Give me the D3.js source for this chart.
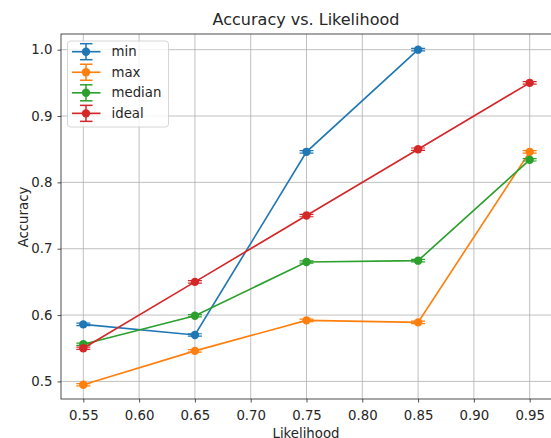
<!DOCTYPE html>
<html>
<head>
<meta charset="utf-8">
<script src="https://cdn.jsdelivr.net/npm/d3@7"></script>
<style>
  body { margin: 0; background: #fff; overflow: hidden; }
  svg { font-family: "DejaVu Sans", sans-serif; }
</style>
</head>
<body>
<script>
'use strict';
(function () {
  // chart data
  const likelihood = [0.55, 0.65, 0.75, 0.85, 0.95];
  const minAcc = [0.586, 0.570, 0.846, 1.0];
  const maxAcc = [0.495, 0.546, 0.592, 0.589, 0.846];
  const medianAcc = [0.556, 0.599, 0.680, 0.682, 0.834];
  const idealAcc = [0.55, 0.65, 0.75, 0.85, 0.95];
  const seriesNames = ['min', 'max', 'median', 'ideal'];
  const xTicks = [0.55, 0.60, 0.65, 0.70, 0.75, 0.80, 0.85, 0.90, 0.95];
  const yTicks = [0.5, 0.6, 0.7, 0.8, 0.9, 1.0];

  const colors = ['#1f77b4', '#ff7f0e', '#2ca02c', '#d62728'];
  const allSeries = [minAcc, maxAcc, medianAcc, idealAcc];

  const width = 551, height = 438;
  const left = 61, top = 34, right = 552, bottom = 399;
  const fs = 13.3;

  const svg = d3.select('body').append('svg')
    .attr('width', width)
    .attr('height', height);

  const x = d3.scaleLinear().domain([0.53, 0.97]).range([left, right]);
  const y = d3.scaleLinear().domain([0.4735, 1.0236]).range([bottom, top]);

  // grid
  svg.append('g').selectAll('line').data(xTicks).enter().append('line')
    .attr('x1', d => x(d)).attr('x2', d => x(d))
    .attr('y1', top).attr('y2', bottom)
    .attr('stroke', '#b0b0b0').attr('stroke-width', 0.8);
  svg.append('g').selectAll('line').data(yTicks).enter().append('line')
    .attr('x1', left).attr('x2', right)
    .attr('y1', d => y(d)).attr('y2', d => y(d))
    .attr('stroke', '#b0b0b0').attr('stroke-width', 0.8);

  // axes
  const xAxis = d3.axisBottom(x).tickValues(xTicks).tickFormat(d3.format('.2f'))
    .tickSize(3.5).tickPadding(8);
  const yAxis = d3.axisLeft(y).tickValues(yTicks).tickFormat(d3.format('.1f'))
    .tickSize(3.5).tickPadding(5);

  const gx = svg.append('g').attr('transform', 'translate(0,' + bottom + ')').call(xAxis);
  const gy = svg.append('g').attr('transform', 'translate(' + left + ',0)').call(yAxis);
  [gx, gy].forEach(g => {
    g.select('.domain').remove();
    g.selectAll('text').attr('font-size', fs).attr('fill', '#262626')
      .attr('font-family', '"DejaVu Sans", sans-serif');
    g.selectAll('line').attr('stroke', '#222').attr('stroke-width', 0.8);
  });

  // spines
  svg.append('rect')
    .attr('x', left).attr('y', top)
    .attr('width', right - left).attr('height', bottom - top)
    .attr('fill', 'none').attr('stroke', '#222').attr('stroke-width', 0.8);

  // series
  const line = d3.line().x(d => x(d[0])).y(d => y(d[1]));
  allSeries.forEach((vals, i) => {
    const pts = vals.map((v, j) => [likelihood[j], v]);
    const g = svg.append('g');
    g.append('path').datum(pts)
      .attr('d', line)
      .attr('fill', 'none')
      .attr('stroke', colors[i])
      .attr('stroke-width', 1.65);
    // tiny error bar caps
    g.selectAll('.cap').data(pts).enter().append('path')
      .attr('d', d => {
        const cx = x(d[0]), cy = y(d[1]);
        return 'M' + (cx - 7) + ',' + (cy - 1.2) + 'H' + (cx + 7) +
               'M' + (cx - 7) + ',' + (cy + 1.2) + 'H' + (cx + 7);
      })
      .attr('stroke', colors[i]).attr('stroke-width', 1.2).attr('fill', 'none');
    g.selectAll('circle').data(pts).enter().append('circle')
      .attr('cx', d => x(d[0])).attr('cy', d => y(d[1]))
      .attr('r', 4.2).attr('fill', colors[i]);
  });

  // legend
  const lg = svg.append('g');
  lg.append('rect')
    .attr('x', 67.5).attr('y', 41).attr('width', 101).attr('height', 86)
    .attr('rx', 3)
    .attr('fill', 'rgba(255,255,255,0.8)').attr('stroke', '#cccccc').attr('stroke-width', 0.8);
  seriesNames.forEach((name, i) => {
    const ly = 51.7 + i * 20.55;
    const c = colors[i];
    lg.append('line').attr('x1', 72).attr('x2', 100.5).attr('y1', ly).attr('y2', ly)
      .attr('stroke', c).attr('stroke-width', 1.65);
    lg.append('line').attr('x1', 86).attr('x2', 86).attr('y1', ly - 8).attr('y2', ly + 8)
      .attr('stroke', c).attr('stroke-width', 1.5);
    lg.append('line').attr('x1', 80).attr('x2', 92.5).attr('y1', ly - 8).attr('y2', ly - 8)
      .attr('stroke', c).attr('stroke-width', 1.5);
    lg.append('line').attr('x1', 80).attr('x2', 92.5).attr('y1', ly + 8).attr('y2', ly + 8)
      .attr('stroke', c).attr('stroke-width', 1.5);
    lg.append('circle').attr('cx', 86).attr('cy', ly).attr('r', 4.2).attr('fill', c);
    lg.append('text').attr('x', 111.5).attr('y', ly + 4.6).attr('font-size', fs)
      .attr('fill', '#262626').text(name);
  });

  // title and axis labels
  svg.append('text')
    .attr('x', 306).attr('y', 25)
    .attr('text-anchor', 'middle').attr('font-size', 16).attr('fill', '#262626')
    .text('Accuracy vs. Likelihood');
  svg.append('text')
    .attr('x', 306).attr('y', 438)
    .attr('text-anchor', 'middle').attr('font-size', fs).attr('fill', '#262626')
    .text('Likelihood');
  svg.append('text')
    .attr('transform', 'translate(28,' + 217 + ') rotate(-90)')
    .attr('text-anchor', 'middle').attr('font-size', fs).attr('fill', '#262626')
    .text('Accuracy');
})();
</script>
</body>
</html>
